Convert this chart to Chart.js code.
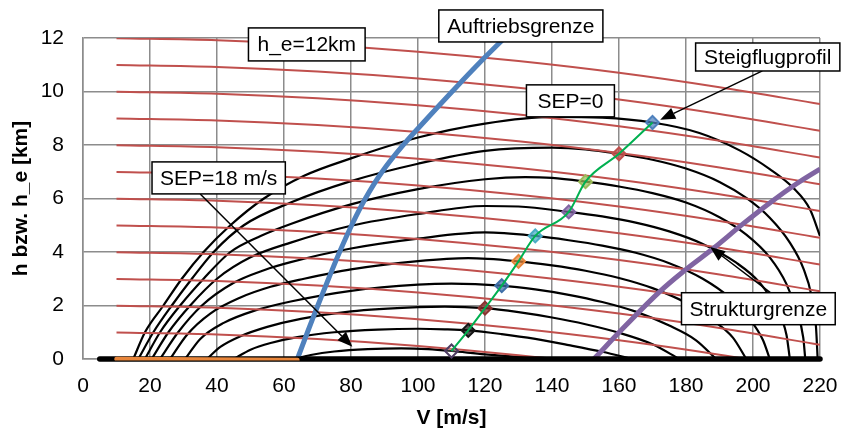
<!DOCTYPE html>
<html>
<head>
<meta charset="utf-8">
<script src="https://cdn.jsdelivr.net/npm/chart.js@4.4.1/dist/chart.umd.min.js"></script>
<style>
  html, body { margin: 0; padding: 0; background: #ffffff; }
  #wrap { width: 841px; height: 434px; }
</style>
</head>
<body>
<div id="wrap"><canvas id="chart" width="841" height="434"></canvas></div>
<script>
// ---- axis ticks ----
const xTicks = [0, 20, 40, 60, 80, 100, 120, 140, 160, 180, 200, 220];
const yTicks = [0, 2, 4, 6, 8, 10, 12];

// ---- lines of constant energy height h_e (km) ----
const energyLevels = [1, 2, 3, 4, 5, 6, 7, 8, 9, 10, 11, 12];
const energyV      = [10, 40, 70, 100, 130, 160, 190, 220];
// kinetic part of the energy height at those speeds (km)
const energyLoss   = [0.005, 0.08, 0.25, 0.51, 0.86, 1.30, 1.84, 2.47];

// ---- SEP contours, [V m/s, h km] ----
const sep0  = [[15,0],[18.5,1],[24,2],[29.5,3],[36,4],[44,5],[54,6],[66,6.85],[80,7.5],[100,8.28],[120,8.8],[140,9.05],[155,9.02],[170,8.84],[184,8.45],[196,7.8],[205,7.1],[212,6.4],[217,5.6],[220,4.6]];
const sep2  = [[16.5,0],[21,1],[26.5,2],[32.5,3],[39,4],[48,5],[62,5.85],[80,6.65],[100,7.3],[120,7.78],[140,7.9],[150,7.84],[160,7.67],[170,7.45],[180,7.12],[190,6.62],[198,6.02],[205,5.28],[211,4.35],[215,3.4],[217.5,2.35],[218.8,1.2],[219.3,0]];
const sep4  = [[18.5,0],[23,1],[29,2],[36,3],[44,4],[53,4.6],[62,5.05],[80,5.78],[100,6.35],[120,6.72],[132,6.8],[140,6.77],[150,6.63],[160,6.45],[170,6.2],[180,5.85],[190,5.3],[198,4.65],[205,3.8],[210,2.8],[213,1.8],[215,0.8],[215.6,0]];
const sep6  = [[20.5,0],[25.5,1],[32,2],[40,3],[50,3.8],[62,4.35],[80,4.98],[100,5.42],[120,5.72],[130,5.7],[145,5.5],[155,5.33],[165,5.1],[175,4.77],[185,4.3],[195,3.6],[202,2.85],[207,1.9],[210,0.9],[211,0]];
const sep8  = [[23,0],[28.4,1],[35.5,2],[45,2.85],[54,3.32],[62,3.62],[80,4.13],[100,4.5],[120,4.73],[135,4.6],[145,4.44],[155,4.24],[165,3.97],[175,3.58],[185,3.0],[193,2.3],[199,1.5],[203,0.7],[205,0]];
const sep10 = [[26,0],[31,0.9],[38,1.7],[47,2.3],[56,2.7],[66,3.0],[80,3.35],[100,3.66],[115,3.77],[130,3.65],[140,3.5],[150,3.3],[160,3.03],[170,2.65],[180,2.1],[188,1.45],[194,0.8],[198,0]];
const sep12 = [[30.5,0],[35,0.75],[42,1.35],[51,1.8],[62,2.15],[80,2.55],[100,2.78],[110,2.82],[125,2.74],[135,2.6],[145,2.4],[155,2.13],[165,1.77],[175,1.25],[183,0.7],[189,0]];
const sep14 = [[37,0],[41,0.45],[47,0.85],[55,1.2],[65,1.5],[80,1.78],[100,1.94],[108,1.96],[120,1.9],[130,1.75],[140,1.55],[150,1.3],[160,0.98],[170,0.55],[178,0]];
const sep16 = [[45,0],[50,0.35],[56,0.6],[64,0.82],[75,1.0],[88,1.1],[100,1.13],[108,1.11],[115,1.07],[125,0.93],[135,0.75],[145,0.52],[155,0.27],[164,0]];
const sep18 = [[63,0],[68,0.15],[75,0.28],[85,0.37],[95,0.4],[103,0.37],[110,0.3],[120,0.17],[130,0.08],[140,0.025],[147,0]];

// ---- limits ----
const liftLimit   = [[64,0],[67,1],[70.1,2],[73.3,3],[76.6,4],[80.2,5],[84.3,6],[89.3,7],[95.6,8],[102.8,9],[110.2,10],[117.8,11],[125.8,12]];
const structLimit = [[152.5,0],[162,1.25],[172,2.5],[180,3.35],[188,4.12],[197,5.05],[205.5,5.88],[213,6.55],[220,7.1]];

// ---- ground line ----
const groundLine = [[5,0],[220,0]];
const takeoffRun = [[10,0],[64,-0.04]];

// ---- climb profile ----
const climbV = [110, 115, 120, 125, 130, 135, 145, 150, 160, 170];
const climbH = [0.3, 1.07, 1.9, 2.74, 3.65, 4.6, 5.5, 6.63, 7.67, 8.84];

// ---- drawing styles ----
const FONT = '"Liberation Sans", Arial, Helvetica, sans-serif';
const markerColors = ['#4D3B62', '#151515', '#8B3330', '#3F6FA8', '#E8853A', '#4BACC6', '#8064A2', '#9BBB59', '#C0504D', '#4F81BD'];

const toPts = arr => arr.map(p => ({ x: p[0], y: p[1] }));

const datasets = [];

// SEP contours
[sep0, sep2, sep4, sep6, sep8, sep10, sep12, sep14, sep16, sep18].forEach(c => {
  datasets.push({
    data: toPts(c), showLine: true, borderColor: '#000000', borderWidth: 2.2,
    pointRadius: 0, cubicInterpolationMode: 'monotone', order: 60
  });
});

// energy height lines
energyLevels.forEach(he => {
  datasets.push({
    data: energyV.map((v, i) => ({ x: v, y: he - energyLoss[i] })),
    showLine: true, borderColor: '#C0504D', borderWidth: 2,
    pointRadius: 0, cubicInterpolationMode: 'monotone', order: 50
  });
});

datasets.push({
  data: toPts(liftLimit), showLine: true, borderColor: '#4F81BD', borderWidth: 5,
  pointRadius: 0, tension: 0.4, order: 40
});
datasets.push({
  data: toPts(structLimit), showLine: true, borderColor: '#8064A2', borderWidth: 5,
  pointRadius: 0, tension: 0.4, order: 40
});
datasets.push({
  data: toPts(groundLine), showLine: true, borderColor: '#000000', borderWidth: 5.5,
  borderCapStyle: 'round', pointRadius: 0, clip: 8, order: 35
});
datasets.push({
  data: toPts(takeoffRun), showLine: true, borderColor: '#E8853A', borderWidth: 4.5,
  borderCapStyle: 'round', pointRadius: 0, clip: { left: 8, right: 8, top: 8, bottom: 1.5 }, order: 34
});
// climb profile markers
datasets.push({
  data: climbV.map((v, i) => ({ x: v, y: climbH[i] })), showLine: false,
  pointStyle: 'rectRot', pointRadius: 6.5, pointBorderWidth: 2,
  pointBorderColor: markerColors,
  pointBackgroundColor: markerColors.map((c, i) => i === 0 ? 'rgba(255,255,255,0.2)' : c + 'BB'),
  order: 20
});
// climb profile line
datasets.push({
  data: climbV.map((v, i) => ({ x: v, y: climbH[i] })), showLine: true,
  borderColor: '#00B050', borderWidth: 2, pointRadius: 0,
  cubicInterpolationMode: 'monotone', order: 10
});

// text boxes and arrows, placed in data coordinates
const callouts = [
  { text: 'h_e=12km',        at: [66.8, 11.76],  padX: 9,   boxH: 33 },
  { text: 'Auftriebsgrenze', at: [130.7, 12.45], padX: 8.5, boxH: 32 },
  { text: 'SEP=0',           at: [145.5, 9.65],  padX: 11,  boxH: 32 },
  { text: 'Steigflugprofil', at: [204.4, 11.29], padX: 8.5, boxH: 28 },
  { text: 'SEP=18 m/s',      at: [40.5, 6.77],   padX: 8,   boxH: 32 },
  { text: 'Strukturgrenze',  at: [201.6, 1.88],  padX: 8,   boxH: 32 }
];
const arrows = [
  { from: [35.0, 6.17],  to: [80.4, 0.46] },
  { from: [202.8, 10.77], to: [172.3, 8.94] },
  { from: [205.2, 2.48], to: [187.2, 4.19] }
];

const calloutPlugin = {
  id: 'callouts',
  afterDatasetsDraw(chart) {
    const { ctx, scales: { x, y } } = chart;
    ctx.save();
    ctx.strokeStyle = '#000';
    ctx.fillStyle = '#000';
    arrows.forEach(a => {
      const x0 = x.getPixelForValue(a.from[0]), y0 = y.getPixelForValue(a.from[1]);
      const x1 = x.getPixelForValue(a.to[0]),   y1 = y.getPixelForValue(a.to[1]);
      const ang = Math.atan2(y1 - y0, x1 - x0);
      const L = 15, W = 6;
      const bx = x1 - L * Math.cos(ang), by = y1 - L * Math.sin(ang);
      ctx.lineWidth = 1.5;
      ctx.beginPath(); ctx.moveTo(x0, y0); ctx.lineTo(bx, by); ctx.stroke();
      ctx.beginPath();
      ctx.moveTo(x1, y1);
      ctx.lineTo(bx - W * Math.sin(ang), by + W * Math.cos(ang));
      ctx.lineTo(bx + W * Math.sin(ang), by - W * Math.cos(ang));
      ctx.closePath(); ctx.fill();
    });
    ctx.font = '21px ' + FONT;
    ctx.textAlign = 'center';
    ctx.textBaseline = 'middle';
    callouts.forEach(c => {
      const cx = x.getPixelForValue(c.at[0]), cy = y.getPixelForValue(c.at[1]);
      const w = ctx.measureText(c.text).width + 2 * c.padX;
      const h = c.boxH;
      ctx.fillStyle = '#fff';
      ctx.fillRect(cx - w / 2, cy - h / 2, w, h);
      ctx.lineWidth = 1.5;
      ctx.strokeRect(cx - w / 2, cy - h / 2, w, h);
      ctx.fillStyle = '#000';
      ctx.fillText(c.text, cx, cy + 1);
    });
    ctx.restore();
  }
};

const gridColor = '#8c8c8c';

new Chart(document.getElementById('chart'), {
  type: 'scatter',
  data: { datasets },
  options: {
    responsive: false,
    animation: false,
    devicePixelRatio: 1,
    layout: { padding: { top: 38, right: 21, left: 0, bottom: 0 } },
    plugins: { legend: { display: false }, tooltip: { enabled: false } },
    scales: {
      x: {
        type: 'linear', min: xTicks[0], max: xTicks[xTicks.length - 1],
        afterBuildTicks: s => { s.ticks = xTicks.map(v => ({ value: v })); },
        ticks: { font: { family: FONT, size: 21 }, color: '#000', padding: 15, maxRotation: 0 },
        grid: { color: gridColor, lineWidth: 1.5, drawTicks: false },
        border: { color: gridColor, width: 1.5 },
        title: { display: true, text: 'V [m/s]', color: '#000',
                 font: { family: FONT, size: 21, weight: 'bold' }, padding: { top: 0, bottom: 3 } },
        afterFit: s => { s.height = 75; s.paddingLeft = 0; s.paddingRight = 0; }
      },
      y: {
        type: 'linear', min: yTicks[0], max: yTicks[yTicks.length - 1],
        afterBuildTicks: s => { s.ticks = yTicks.map(v => ({ value: v })); },
        ticks: { font: { family: FONT, size: 21 }, color: '#000', padding: 19 },
        grid: { color: gridColor, lineWidth: 1.5, drawTicks: false },
        border: { color: gridColor, width: 1.5 },
        title: { display: true, text: 'h bzw. h_e [km]', color: '#000',
                 font: { family: FONT, size: 21, weight: 'bold' }, padding: { top: 9, bottom: 0 } },
        afterFit: s => { s.width = 83; s.paddingTop = 0; s.paddingBottom = 0; }
      }
    }
  },
  plugins: [calloutPlugin]
});
</script>
</body>
</html>
